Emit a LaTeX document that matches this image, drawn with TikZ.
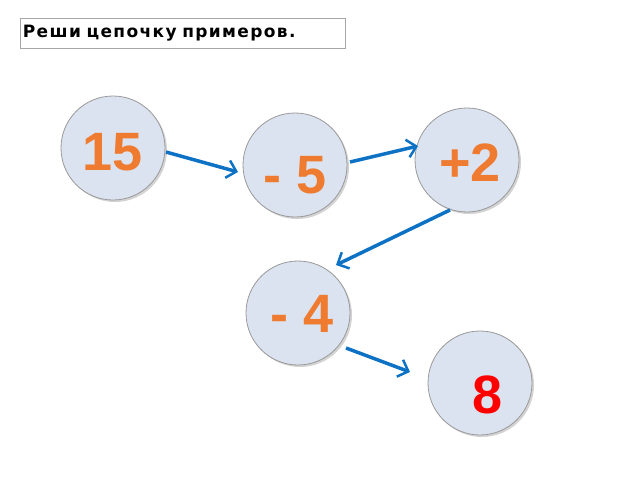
\documentclass[tikz,border=0pt]{standalone}
\usepackage{fontspec}
\setmainfont{DejaVu Sans}
\newfontfamily\digfont{Liberation Sans}
\newfontfamily\titlefont[LetterSpace=8]{DejaVu Sans}
\usetikzlibrary{arrows.meta,shadows}
\definecolor{cfill}{HTML}{DCE3F0}
\definecolor{ar}{HTML}{0E72C4}
\definecolor{org}{HTML}{EE7B30}
\begin{document}
\begin{tikzpicture}[x=1pt,y=-1pt,
  ball/.style={circle,draw=gray!80,line width=0.8pt,fill=cfill,minimum size=104pt,inner sep=0pt,
     drop shadow={shadow xshift=2pt,shadow yshift=-2pt,opacity=0.35}},
  num/.style={font=\digfont\fontsize{54}{54}\bfseries,text=org,inner sep=0pt},
  arr/.style={draw=ar,line width=3.5pt,-{Straight Barb[length=9pt,width=18pt,line width=2.5pt]}}]
\useasboundingbox (0,0) rectangle (640,480);
\node[draw=gray!70,line width=0.8pt,anchor=north west,minimum width=325pt,minimum height=30pt,
  inner sep=0pt,font=\titlefont\fontsize{17}{17}\bfseries,text width=320pt,align=left] (t) at (20,18) {Реши цепочку примеров.};
\node[ball] (a) at (113,148) {};
\node[ball] (b) at (295,165) {};
\node[ball] (c) at (467,160) {};
\node[ball] (d) at (298,313) {};
\node[ball] (e) at (480,383) {};
\node[num] (ta) at (113,152) {15};
\node[num] (tb) at (295,175) {- 5};
\node[num] (tc) at (470,163) {+2};
\node[num] (td) at (302,314) {- 4};
\node[num,text=red] (te) at (488,395) {8};
\coordinate (a1) at (166,152); \coordinate (b1) at (238,172);
\coordinate (b2) at (350,162); \coordinate (c2) at (418,146);
\coordinate (c3) at (450,210); \coordinate (d3) at (336,265);
\coordinate (d4) at (346,348); \coordinate (e4) at (410,372);
\draw[arr] (a1) -- (b1);
\draw[arr] (b2) -- (c2);
\draw[arr] (c3) -- (d3);
\draw[arr] (d4) -- (e4);
\end{tikzpicture}
\end{document}
